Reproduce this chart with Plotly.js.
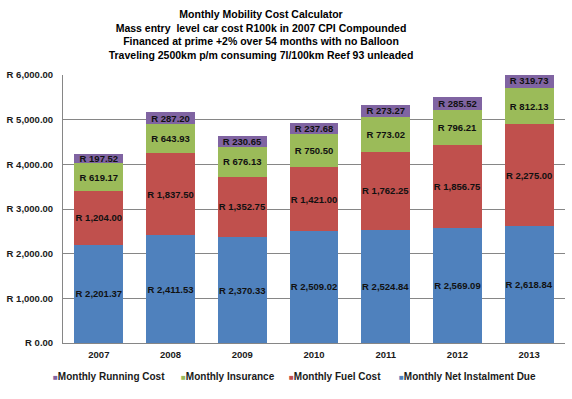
<!DOCTYPE html>
<html>
<head>
<meta charset="utf-8">
<script src="https://cdn.plot.ly/plotly-3.0.1.min.js"></script>
<style>html,body{margin:0;padding:0;background:#fff;}#chart{width:572px;height:399px;}</style>
</head>
<body>
<div id="chart"></div>
<script>
const years = ['2007','2008','2009','2010','2011','2012','2013'];
const netInstalment = [2201.37, 2411.53, 2370.33, 2509.02, 2524.84, 2569.09, 2618.84];
const fuelCost = [1204.00, 1837.50, 1352.75, 1421.00, 1762.25, 1856.75, 2275.00];
const insurance = [619.17, 643.93, 676.13, 750.50, 773.02, 796.21, 812.13];
const runningCost = [197.52, 287.20, 230.65, 237.68, 273.27, 285.52, 319.73];
const seriesNames = ['Monthly Net Instalment Due', 'Monthly Fuel Cost', 'Monthly Insurance', 'Monthly Running Cost'];
const seriesColors = ['#4F81BD', '#C0504D', '#9BBB59', '#8064A2'];

const FONT = 'Liberation Sans, Arial, sans-serif';
const fmt = v => 'R ' + v.toLocaleString('en-US', {minimumFractionDigits: 2, maximumFractionDigits: 2});

function mk(i, vals) {
  return {
    type: 'bar', name: seriesNames[i], x: years, y: vals,
    marker: {color: seriesColors[i]},
    text: vals.map(fmt),
    textposition: 'inside',
    insidetextanchor: 'middle',
    textangle: 0,
    textfont: {family: FONT, size: 9.5, color: '#111111', weight: 'bold'},
    hoverinfo: 'none'
  };
}

const data = [
  mk(0, netInstalment),
  mk(1, fuelCost),
  mk(2, insurance),
  mk(3, runningCost)
];

// legend drawn as text entries (Excel-style compact legend), order reversed
const plotL = 63, plotW = 502, plotB = 343, plotH = 268;
const legendPx = [52, 180, 288, 398];
const legendOrder = [3, 2, 1, 0];
const annotations = legendOrder.map((si, k) => ({
  xref: 'paper', yref: 'paper',
  x: (legendPx[k] - plotL) / plotW,
  y: (plotB - 376) / plotH,
  xanchor: 'left', yanchor: 'middle',
  showarrow: false,
  borderpad: 0,
  text: '<span style="color:' + seriesColors[si] + ';font-size:8px">■</span><b>' + seriesNames[si] + '</b>',
  font: {family: FONT, size: 10, color: '#1a1a1a'}
}));

const layout = {
  width: 572, height: 399,
  barmode: 'stack',
  bargap: 0.32,
  paper_bgcolor: '#ffffff', plot_bgcolor: '#ffffff',
  margin: {l: 63, r: 7, t: 75, b: 56},
  font: {family: FONT, color: '#1a1a1a'},
  uniformtext: {mode: 'show', minsize: 9.5},
  showlegend: false,
  annotations: annotations,
  title: {
    text: '<b>Monthly Mobility Cost Calculator<br>Mass entry  level car cost R100k in 2007 CPI Compounded<br>Financed at prime +2% over 54 months with no Balloon<br>Traveling 2500km p/m consuming 7l/100km Reef 93 unleaded</b>',
    font: {family: FONT, size: 10.5, color: '#000000'},
    x: 261 / 572, xanchor: 'center', xref: 'container',
    y: 1 - 18 / 399, yanchor: 'top', yref: 'container'
  },
  xaxis: {
    type: 'category',
    showline: true, linecolor: '#868686', linewidth: 1,
    ticks: '', showgrid: false,
    tickfont: {family: FONT, size: 9.5, color: '#1a1a1a', weight: 'bold'},
    ticklabelstandoff: 3
  },
  yaxis: {
    range: [0, 6000], dtick: 1000,
    tickprefix: 'R ', tickformat: ',.2f',
    showline: true, linecolor: '#868686', linewidth: 1,
    gridcolor: '#868686', gridwidth: 1,
    zeroline: false,
    ticks: '',
    tickfont: {family: FONT, size: 9.5, color: '#1a1a1a', weight: 'bold'},
    ticklabelstandoff: 7
  }
};

Plotly.newPlot('chart', data, layout, {displayModeBar: false, staticPlot: true});
</script>
</body>
</html>
